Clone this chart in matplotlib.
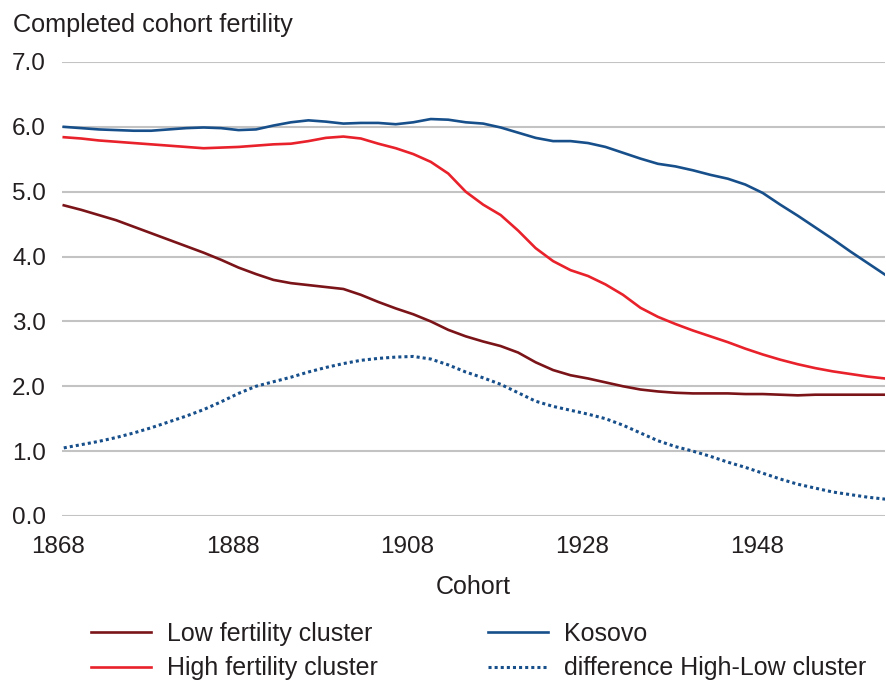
import matplotlib.pyplot as plt
import matplotlib.transforms as mtransforms
import numpy as np

# cohort years (every second year)
years = list(range(1868, 1963, 2))

low_fert = [4.79, 4.72, 4.64, 4.56, 4.46, 4.36, 4.26, 4.16, 4.06, 3.95,
            3.83, 3.73, 3.64, 3.59, 3.56, 3.53, 3.50, 3.41, 3.30, 3.20,
            3.11, 3.00, 2.87, 2.77, 2.69, 2.62, 2.52, 2.37, 2.25, 2.17,
            2.12, 2.06, 2.00, 1.95, 1.92, 1.90, 1.89, 1.89, 1.89, 1.88,
            1.88, 1.87, 1.86, 1.87, 1.87, 1.87, 1.87, 1.87]

high_fert = [5.84, 5.82, 5.79, 5.77, 5.75, 5.73, 5.71, 5.69, 5.67, 5.68,
             5.69, 5.71, 5.73, 5.74, 5.78, 5.83, 5.85, 5.82, 5.74, 5.67,
             5.58, 5.46, 5.28, 5.00, 4.80, 4.64, 4.40, 4.13, 3.93, 3.79,
             3.70, 3.57, 3.41, 3.21, 3.07, 2.96, 2.86, 2.77, 2.68, 2.58,
             2.49, 2.41, 2.34, 2.28, 2.23, 2.19, 2.15, 2.12]

kosovo = [6.00, 5.98, 5.96, 5.95, 5.94, 5.94, 5.96, 5.98, 5.99, 5.98,
          5.95, 5.96, 6.02, 6.07, 6.10, 6.08, 6.05, 6.06, 6.06, 6.04,
          6.07, 6.12, 6.11, 6.07, 6.05, 5.99, 5.91, 5.83, 5.78, 5.78,
          5.75, 5.69, 5.60, 5.51, 5.43, 5.39, 5.33, 5.26, 5.20, 5.11,
          4.98, 4.80, 4.63, 4.45, 4.27, 4.08, 3.90, 3.72]

difference = [1.05, 1.10, 1.15, 1.21, 1.28, 1.36, 1.45, 1.54, 1.64, 1.76,
              1.89, 2.00, 2.07, 2.14, 2.22, 2.29, 2.35, 2.40, 2.43, 2.45,
              2.46, 2.42, 2.33, 2.22, 2.13, 2.03, 1.90, 1.77, 1.69, 1.63,
              1.57, 1.50, 1.40, 1.28, 1.16, 1.07, 1.00, 0.92, 0.83, 0.75,
              0.66, 0.57, 0.49, 0.43, 0.37, 0.33, 0.29, 0.26]

xtick_years = [1868, 1888, 1908, 1928, 1948]
ytick_vals = np.arange(0, 7.5, 1.0)

plt.rcParams['font.family'] = ['Liberation Sans', 'DejaVu Sans']
text_col = '#231f20'

fig = plt.figure(figsize=(8.86, 6.81), dpi=100)
ax = fig.add_axes([0.070, 0.2423, 0.929, 0.6667])

ax.plot(years, low_fert, color='#7a1418', lw=1.9, label='Low fertility cluster')
ax.plot(years, high_fert, color='#e8212b', lw=1.9, label='High fertility cluster')
ax.plot(years, kosovo, color='#174f8b', lw=1.9, label='Kosovo')
ax.plot(years, difference, color='#174f8b', lw=2.2, linestyle=(0, (1, 1)),
        label='difference High-Low cluster')

ax.set_xlim(1867.8, 1962)
ax.set_ylim(0, 7)
ax.set_xticks(xtick_years)
ax.set_xticklabels([str(y) for y in xtick_years])
ax.set_yticks(ytick_vals)
ax.set_yticklabels(['%.1f' % v for v in ytick_vals])
ax.grid(axis='y', color='#c3c3c3', lw=1.5)
ax.set_axisbelow(True)
for s in ax.spines.values():
    s.set_visible(False)
ax.tick_params(length=0, labelsize=17.5, colors=text_col)
ax.tick_params(axis='y', pad=11.5)
ax.tick_params(axis='x', pad=14.5)

# year labels sit a little left of their tick in the original
shift = mtransforms.ScaledTranslation(-6 / 100, 0, fig.dpi_scale_trans)
for lab in ax.get_xticklabels():
    lab.set_transform(lab.get_transform() + shift)

ax.set_xlabel('Cohort', fontsize=18, color=text_col, labelpad=12)
fig.text(0.015, 0.963, 'Completed cohort fertility', fontsize=18.2,
         color=text_col, va='center', ha='left')

fig.legend(loc='lower left', bbox_to_anchor=(0.077, -0.032), ncol=2,
           frameon=False, fontsize=18, handlelength=2.4, handletextpad=0.64,
           columnspacing=4.4, labelspacing=0.41, labelcolor=text_col)

plt.savefig('out.png', dpi=100)
